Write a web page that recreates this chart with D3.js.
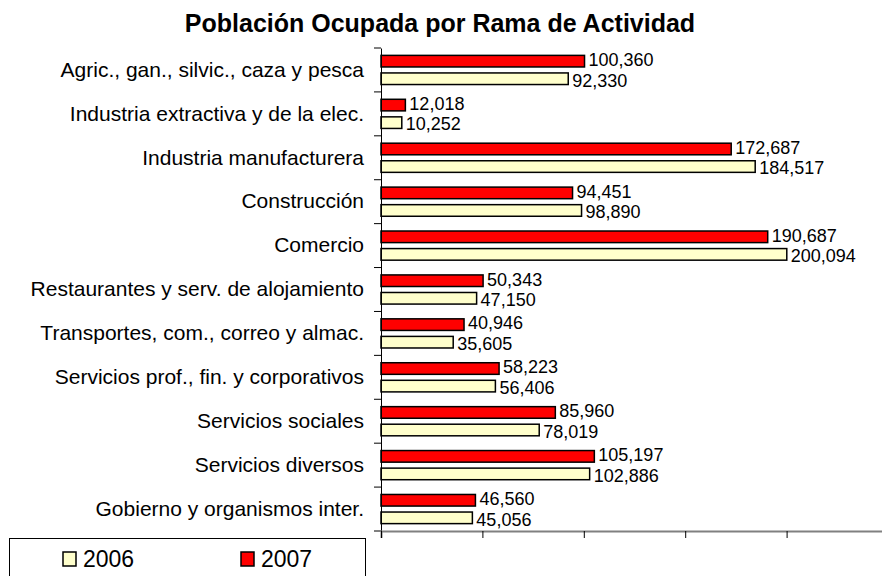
<!DOCTYPE html>
<html>
<head>
<meta charset="utf-8">
<script src="https://cdn.jsdelivr.net/npm/d3@7"></script>
<style>
  body { margin: 0; background: #fff; }
  svg { display: block; font-family: "Liberation Sans", Arial, sans-serif; }
</style>
</head>
<body>
<script>
const categories = [
  "Agric., gan., silvic., caza y pesca",
  "Industria extractiva y de la elec.",
  "Industria manufacturera",
  "Construcción",
  "Comercio",
  "Restaurantes y serv. de alojamiento",
  "Transportes, com., correo y almac.",
  "Servicios prof., fin. y corporativos",
  "Servicios sociales",
  "Servicios diversos",
  "Gobierno y organismos inter."
];
const values2007 = [100360, 12018, 172687, 94451, 190687, 50343, 40946, 58223, 85960, 105197, 46560];
const values2006 = [92330, 10252, 184517, 98890, 200094, 47150, 35605, 56406, 78019, 102886, 45056];
const xTicks = [0, 50000, 100000, 150000, 200000, 250000];
const seriesNames = ["2007", "2006"];
const colors = {"2007": "#ff0000", "2006": "#ffffcc"};

const width = 882, height = 576;
const svg = d3.select("body").append("svg")
    .attr("width", width)
    .attr("height", height);

const x = d3.scaleLinear().domain([0, 250000]).range([381, 888]);
const y = d3.scaleBand().domain(categories).range([48, 531]);
const inner = d3.scaleBand().domain(seriesNames).range([0, y.bandwidth()])
    .paddingInner(0.34).paddingOuter(0.42);

svg.append("text")
    .attr("x", 440)
    .attr("y", 32)
    .attr("text-anchor", "middle")
    .style("font-weight", "bold")
    .style("font-size", "25px")
    .text("Población Ocupada por Rama de Actividad");

const rows = categories.map((c, i) => ({cat: c, "2007": values2007[i], "2006": values2006[i]}));

const groups = svg.append("g").selectAll("g")
  .data(rows)
  .join("g")
    .attr("transform", d => `translate(0,${y(d.cat)})`);

groups.selectAll("rect")
  .data(d => seriesNames.map(s => ({s, v: d[s]})))
  .join("rect")
    .attr("x", x(0))
    .attr("y", d => inner(d.s))
    .attr("width", d => x(d.v) - x(0))
    .attr("height", inner.bandwidth())
    .attr("fill", d => colors[d.s])
    .attr("stroke", "#000")
    .attr("stroke-width", 1.5);

// labels nudged apart a little so the two rows do not collide
groups.selectAll("text.val")
  .data(d => seriesNames.map(s => ({s, v: d[s]})))
  .join("text")
    .attr("class", "val")
    .attr("x", d => x(d.v) + 4)
    .attr("y", d => inner(d.s) + inner.bandwidth() / 2 + (d.s === "2007" ? -1.5 : 1.5))
    .attr("dy", "0.35em")
    .style("font-size", "18px")
    .text(d => d3.format(",")(d.v));

// category axis
const yAxis = svg.append("g")
    .attr("transform", `translate(${x(0)},0)`)
    .call(d3.axisLeft(y).tickSize(0).tickPadding(17));
yAxis.select(".domain").attr("stroke", "#000");
yAxis.selectAll("text").style("font-size", "21px").style("font-family", "Liberation Sans, Arial, sans-serif").attr("fill", "#000");
// ticks between categories
svg.append("g").selectAll("line")
  .data(d3.range(categories.length + 1))
  .join("line")
    .attr("x1", x(0) - 7).attr("x2", x(0))
    .attr("y1", i => y.range()[0] + i * y.step())
    .attr("y2", i => y.range()[0] + i * y.step())
    .attr("stroke", "#000");

// value axis without labels
const xAxis = svg.append("g")
    .attr("transform", `translate(0,${y.range()[1]})`)
    .call(d3.axisBottom(x).tickValues(xTicks).tickSize(7).tickFormat(""));
xAxis.select(".domain").attr("stroke", "#808080").attr("stroke-width", 2);
xAxis.selectAll(".tick line").attr("stroke", "#000");

// legend
const legend = svg.append("g");
legend.append("rect")
    .attr("x", 9.5).attr("y", 538.5)
    .attr("width", 356).attr("height", 60)
    .attr("fill", "#fff").attr("stroke", "#000");
const legendItems = [{s: "2006", x: 63}, {s: "2007", x: 241}];
legend.selectAll("rect.sw")
  .data(legendItems)
  .join("rect")
    .attr("class", "sw")
    .attr("x", d => d.x).attr("y", 552)
    .attr("width", 13).attr("height", 14)
    .attr("fill", d => colors[d.s])
    .attr("stroke", "#000").attr("stroke-width", 1.5);
legend.selectAll("text")
  .data(legendItems)
  .join("text")
    .attr("x", d => d.x + 20).attr("y", 567)
    .style("font-size", "23px")
    .text(d => d.s);
</script>
</body>
</html>
